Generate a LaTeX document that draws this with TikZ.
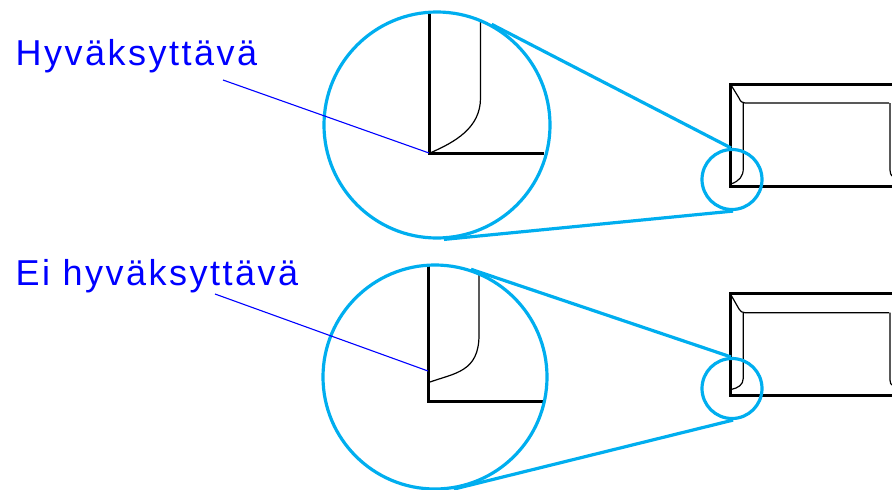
\documentclass[tikz,border=0pt]{standalone}
\usepackage{fontspec}
\setmainfont[LetterSpace=6.9]{Liberation Sans}
\usetikzlibrary{positioning}

\begin{document}
\begin{tikzpicture}[
  x=1pt, y=-1pt,
  lens/.style={circle, draw=lensblue, line width=3.2pt, inner sep=0pt},
  ray/.style={draw=lensblue, line width=3.2pt},
  edge/.style={draw=black, line width=3pt},
  fold/.style={draw=black, line width=1.2pt},
  leader/.style={draw=labelblue, line width=1.1pt},
  caption/.style={text=labelblue, font=\fontsize{36}{40}\selectfont, anchor=base west, inner sep=0pt}
]
\definecolor{lensblue}{RGB}{0,174,239}
\definecolor{labelblue}{RGB}{0,0,255}
\useasboundingbox (0,0) rectangle (892,490);
\clip (0,0) rectangle (892,490);

% Labels
\node[caption] (ok) at (15.5,65.5) {Hyväksyttävä};
\node[caption] (notok) at (15.5,285) {Ei hyväksyttävä};

% Enlarged corners
\draw[edge] (429,12) -- (429,153.5) -- (544,153.5);
\draw[fold] (480.5,21) -- (480.5,98) .. controls (480.5,128) and (455,142) .. (430,153);
\draw[edge] (428,266) -- (428,401.5) -- (543,401.5);
\draw[fold] (479,275) -- (479,335) .. controls (479,372) and (455,373) .. (428.5,382.5);

% Envelopes
\draw[edge] (892,84) -- (730,84) -- (730,186) -- (892,186);
\draw[fold] (731,85) -- (739,98) .. controls (740.5,101.5) and (742,103) .. (745,103) -- (889,103);
\draw[fold] (743.3,103) -- (743.3,168) .. controls (743.3,177) and (739,181) .. (731,184);
\draw[fold] (890,103) -- (890,170) .. controls (890,173) and (891,175) .. (892,176);
\draw[edge] (892,293.5) -- (730,293.5) -- (730,395.5) -- (892,395.5);
\draw[fold] (731,295) -- (739,309) .. controls (740.5,311.5) and (742,312.7) .. (745,312.7) -- (889,312.7);
\draw[fold] (743.3,312.7) -- (743.3,378) .. controls (743.3,385) and (738,388) .. (731,389.5);
\draw[fold] (890,312.7) -- (890,380) .. controls (890,383) and (891,384.5) .. (892,385);

% Lenses
\node[lens, minimum size=226pt] (bigtop) at (437,125) {};
\node[lens, minimum size=224pt] (bigbot) at (435,377) {};
\node[lens, minimum size=60pt] (smalltop) at (732,179.5) {};
\node[lens, minimum size=60pt] (smallbot) at (732,388.5) {};

% Rays
\draw[ray, shorten <=-1pt] (bigtop.61) -- (smalltop.92);
\draw[ray, shorten <=-1pt] (bigtop.274) -- (smalltop.272);
\draw[ray, shorten <=-1pt] (bigbot.71) -- (smallbot.92);
\draw[ray, shorten <=-1pt] (bigbot.280) -- (smallbot.272);

% Leaders
\coordinate (okend) at (429,153);
\coordinate (okstart) at (223,80);
\coordinate (notokend) at (428,371);
\coordinate (notokstart) at (215,294);
\draw[leader] (okstart) -- (okend);
\draw[leader] (notokstart) -- (notokend);
\end{tikzpicture}
\end{document}
